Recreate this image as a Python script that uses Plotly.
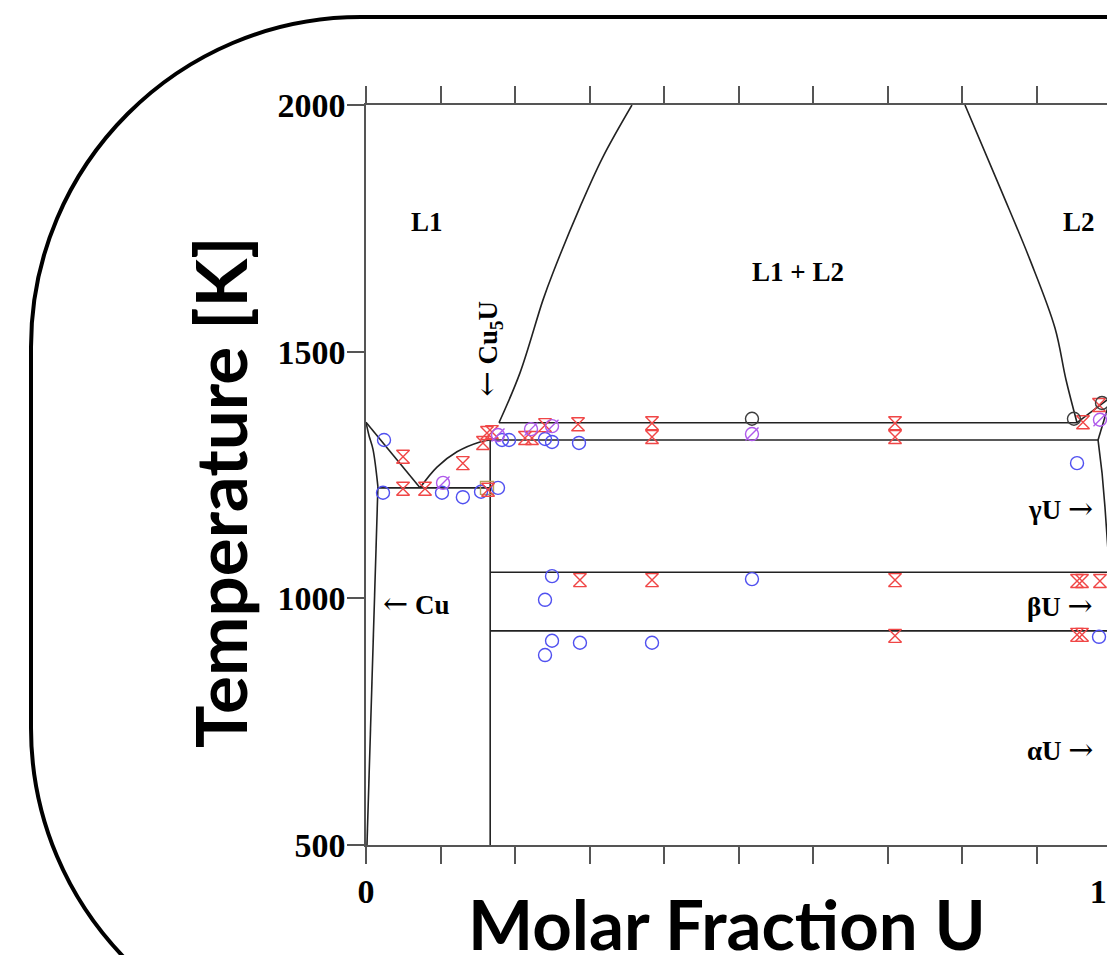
import plotly.graph_objects as go

# ---------------- phase boundaries (molar fraction U, temperature K) ----------------
cu_liquidus_x = [0.0, 0.0725]
cu_liquidus_T = [1357, 1224]

cu5u_liquidus_x = [0.0725, 0.0953, 0.1221, 0.1530, 0.1667]
cu5u_liquidus_T = [1224, 1266, 1297, 1317, 1321]

cu_solidus_x = [0.0, 0.0040, 0.0094, 0.0160]
cu_solidus_T = [1357, 1330, 1302, 1226]

cu_solvus_x = [0.0160, 0.0013]
cu_solvus_T = [1226, 500]

eutectic_x = [0.0160, 0.1667]
eutectic_T = [1224, 1224]

cu5u_x = [0.1667, 0.1667]
cu5u_T = [1321, 500]

monotectic_x = [0.1785, 0.9544]
monotectic_T = [1356, 1356]

peritectic_x = [0.1667, 0.9826]
peritectic_T = [1321, 1321]

gap_left_x = [0.1785, 0.2067, 0.2376, 0.2510, 0.2872, 0.3181, 0.3570]
gap_left_T = [1356, 1457, 1605, 1660, 1793, 1895, 2000]

gap_right_x = [0.8040, 0.8523, 0.8913, 0.9248, 0.9396, 0.9544]
gap_right_T = [2000, 1828, 1686, 1548, 1443, 1356]

u_liquidus_x = [0.9544, 1.0]
u_liquidus_T = [1356, 1408]

u_solidus_x = [0.9826, 1.0]
u_solidus_T = [1321, 1408]

u_solvus_x = [0.9826, 0.9880, 0.9919, 0.9980, 0.9993, 1.0]
u_solvus_T = [1321, 1254, 1185, 1053, 934, 500]

gamma_beta_x = [0.1667, 0.9980]
gamma_beta_T = [1053, 1053]

beta_alpha_x = [0.1667, 0.9993]
beta_alpha_T = [934, 934]

# ---------------- experimental points ----------------
blue_x = [0.0242, 0.0228, 0.1020, 0.1300, 0.1544, 0.1772, 0.1826, 0.1920, 0.2403, 0.2497,
          0.2859, 0.2497, 0.2403, 0.2497, 0.2403, 0.2872, 0.3839, 0.5181, 0.9544, 0.9839]
blue_T = [1321, 1214, 1214, 1205, 1216, 1224, 1321, 1321, 1323, 1317,
          1315, 1045, 997, 914, 885, 910, 910, 1039, 1274, 922]

red_x = [0.0497, 0.0497, 0.0792, 0.1300, 0.1570, 0.1624, 0.1691, 0.1638, 0.2134, 0.2228,
         0.2403, 0.2846, 0.3839, 0.3839, 0.2872, 0.3839, 0.7101, 0.7101, 0.7101, 0.7101,
         0.9624, 0.9839, 0.9544, 0.9611, 0.9852, 0.9544, 0.9611]
red_T = [1287, 1222, 1222, 1274, 1315, 1335, 1337, 1220, 1325, 1325,
         1351, 1353, 1355, 1327, 1037, 1037, 1355, 1327, 1037, 924,
         1357, 1392, 1035, 1035, 1035, 926, 926]

purple_x = [0.1034, 0.1772, 0.2215, 0.2497, 0.5181, 0.9852]
purple_T = [1234, 1331, 1343, 1349, 1333, 1362]

black_x = [0.5181, 0.9503, 0.9879]
black_T = [1364, 1364, 1396]

olive_x = [0.1624]
olive_T = [1224]

# ---------------- axis ticks ----------------
x_tickvals = [0.0, 1.0]
x_ticktext = ["0", "1.0"]
x_minor_step = 0.1
y_tickvals = [500, 1000, 1500, 2000]
y_ticktext = ["500", "1000", "1500", "2000"]

OFF = 8  # page body margin
W, H = 1115 - OFF, 955 - OFF
ML, MT = 366 - OFF, 105 - OFF
PW, PH = 745, 740
MR, MB = W - ML - PW, H - MT - PH

fig = go.Figure()

line_style = dict(color="#222222", width=1.6)
straight = [
    (cu_liquidus_x, cu_liquidus_T), (cu_solvus_x, cu_solvus_T),
    (eutectic_x, eutectic_T), (cu5u_x, cu5u_T),
    (monotectic_x, monotectic_T), (peritectic_x, peritectic_T),
    (u_liquidus_x, u_liquidus_T), (u_solidus_x, u_solidus_T), (u_solvus_x, u_solvus_T),
    (gamma_beta_x, gamma_beta_T), (beta_alpha_x, beta_alpha_T),
]
curved = [
    (cu5u_liquidus_x, cu5u_liquidus_T), (cu_solidus_x, cu_solidus_T),
    (gap_left_x, gap_left_T), (gap_right_x, gap_right_T),
]
for cx, cy in straight:
    fig.add_trace(go.Scatter(x=cx, y=cy, mode="lines", line=line_style,
                             showlegend=False, hoverinfo="skip", cliponaxis=False))
for cx, cy in curved:
    fig.add_trace(go.Scatter(x=cx, y=cy, mode="lines",
                             line=dict(shape="spline", smoothing=1.0, **line_style),
                             showlegend=False, hoverinfo="skip", cliponaxis=False))

mk = dict(size=13, line=dict(width=1.4))
fig.add_trace(go.Scatter(x=olive_x, y=olive_T, mode="markers", showlegend=False,
                         marker=dict(symbol="square-open", size=13, color="rgb(180,160,90)",
                                     line=dict(width=1.4))))
fig.add_trace(go.Scatter(x=blue_x, y=blue_T, mode="markers", showlegend=False,
                         marker=dict(symbol="circle-open", color="rgb(80,80,240)", **mk)))
fig.add_trace(go.Scatter(x=red_x, y=red_T, mode="markers", showlegend=False,
                         marker=dict(symbol="hourglass-open", color="rgb(240,70,70)", **mk)))
fig.add_trace(go.Scatter(x=purple_x, y=purple_T, mode="markers", showlegend=False,
                         marker=dict(symbol="circle-open", color="rgb(175,90,235)", **mk)))
fig.add_trace(go.Scatter(x=purple_x, y=purple_T, mode="markers", showlegend=False,
                         marker=dict(symbol="line-ne-open", color="rgb(175,90,235)", **mk)))
fig.add_trace(go.Scatter(x=black_x, y=black_T, mode="markers", showlegend=False,
                         marker=dict(symbol="circle-open", color="rgb(60,60,60)", **mk)))

axis_common = dict(showgrid=False, zeroline=False, showline=True, linecolor="#555555",
                   linewidth=1.5, ticks="outside", ticklen=17, tickwidth=1.5,
                   tickcolor="#555555", mirror="ticks", ticklabeloverflow="allow",
                   tickfont=dict(family="Liberation Serif", size=34, color="black",
                                 weight="bold"))
fig.update_xaxes(range=[0, 1], tickvals=x_tickvals, ticktext=x_ticktext,
                 ticklabelstandoff=-2,
                 minor=dict(dtick=x_minor_step, tick0=0, ticks="outside", ticklen=17,
                            tickwidth=1.5, tickcolor="#555555", showgrid=False),
                 **axis_common)
fig.update_yaxes(range=[500, 2000], tickvals=y_tickvals, ticktext=y_ticktext,
                 ticklabelstandoff=-5, **axis_common)


def px2paper(px, py):
    # reference-screen pixels -> paper fractions
    return (px - OFF - ML) / PW, (MT + PH - (py - OFF)) / PH


frame_pts = [
    ("M", [(1400, 17)]),
    ("L", [(361, 17)]),
    ("C", [(179, 17), (31, 165), (31, 347)]),
    ("L", [(31, 728)]),
    ("C", [(31, 910), (179, 1058), (361, 1058)]),
    ("L", [(1400, 1058)]),
]
path = ""
for cmd, pts in frame_pts:
    path += cmd + " " + " ".join("%.5f,%.5f" % px2paper(a, b) for a, b in pts) + " "
fig.add_shape(type="path", path=path.strip(), xref="paper", yref="paper",
              line=dict(color="black", width=4), layer="above")

lab = dict(family="Liberation Serif", size=27, color="black", weight="bold")
LA = "<span style=\"font-family:'DejaVu Serif';font-weight:normal;font-size:30px\">←</span>"
RA = "<span style=\"font-family:'DejaVu Serif';font-weight:normal;font-size:30px\">→</span>"
texts = [
    ("L1", 0.082, 1763, 0),
    ("L1 + L2", 0.58, 1662, 0),
    ("L2", 0.957, 1763, 0),
    (LA + " Cu", 0.067, 990, 0),
    ("γU " + RA, 0.932, 1183, 0),
    ("βU " + RA, 0.932, 985, 0),
    ("αU " + RA, 0.932, 693, 0),
    (LA + " Cu<sub>5</sub>U", 0.164, 1505, -90),
]
for t, x, y, ang in texts:
    fig.add_annotation(text=t, x=x, y=y, xref="x", yref="y", showarrow=False,
                       font=lab, textangle=ang, xanchor="center", yanchor="middle")

fig.add_annotation(text="Molar Fraction U", x=px2paper(727, 0)[0], y=px2paper(0, 923)[1],
                   xref="paper", yref="paper", showarrow=False,
                   font=dict(family="Lato", size=69, color="black", weight="bold"),
                   xanchor="center", yanchor="middle")
fig.add_annotation(text="Temperature [K]", x=px2paper(219, 0)[0], y=px2paper(0, 492)[1],
                   xref="paper", yref="paper", showarrow=False,
                   font=dict(family="Lato", size=71, color="black", weight="bold"),
                   textangle=-90, xanchor="center", yanchor="middle")

fig.update_layout(width=W, height=H, margin=dict(l=ML, r=MR, t=MT, b=MB, autoexpand=False),
                  paper_bgcolor="white", plot_bgcolor="white")

fig.write_html("out.html")
